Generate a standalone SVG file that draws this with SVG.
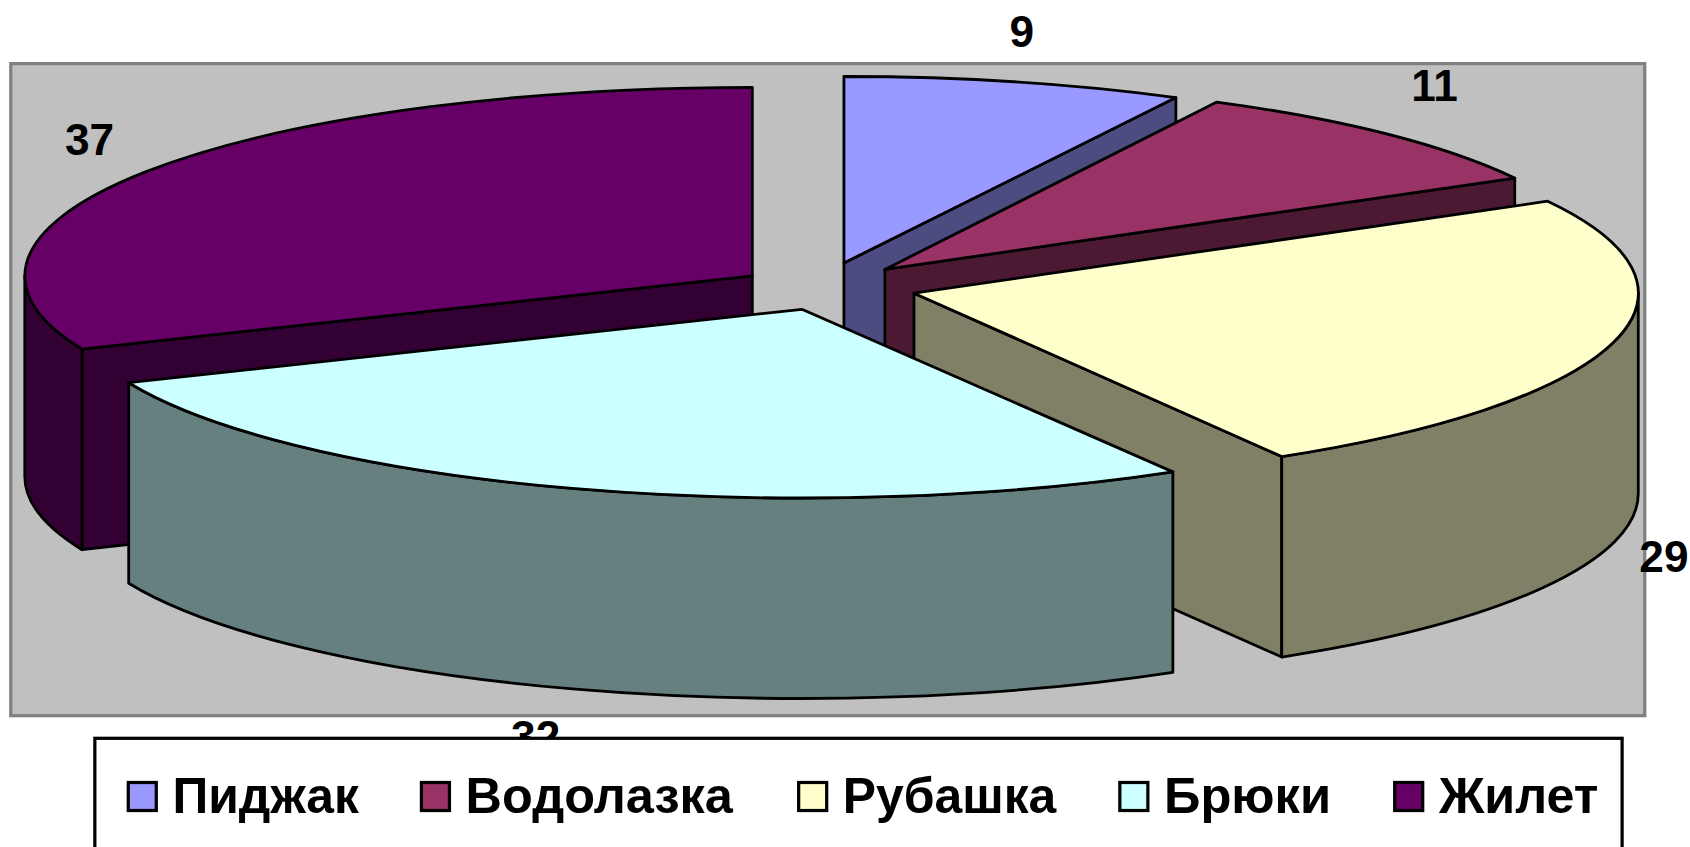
<svg xmlns="http://www.w3.org/2000/svg" width="1690" height="847" viewBox="0 0 1690 847">
<style>
.edge{stroke:#000;stroke-width:2.6;stroke-linejoin:round}
.lbl{font-family:"Liberation Sans",Arial,sans-serif;font-weight:bold;font-size:41px;fill:#000}
.leg{font-family:"Liberation Sans",Arial,sans-serif;font-weight:bold;font-size:47px;fill:#000}
.sw{stroke:#000;stroke-width:3}
</style>
<rect x="0" y="0" width="1690" height="847" fill="#fff"/>
<g transform="scale(1.07781)">
  <rect id="plot-area" x="10" y="59" width="1516" height="605" fill="#C0C0C0" stroke="#808080" stroke-width="3"/>
  <g id="connectors"></g>
  <g id="slice-pidzhak">
    <path class="edge" fill="#4C4C80" d="M783,244 L1091,90.5 L1091,276.5 L783,430 Z"/>
    <path class="edge" fill="#9999FF" d="M783,244 L783,71 A668,173 0 0 1 1091,90.5 Z"/>
  </g>
  <g id="slice-vodolazka">
    <path class="edge" fill="#4C1933" d="M821,250 L1405.4,165.2 L1405.4,351.2 L821,436 Z"/>
    <path class="edge" fill="#993366" d="M821,250 L1129,94.7 A668,175 0 0 1 1405.4,165.2 Z"/>
  </g>
  <g id="slice-zhilet">
    <path class="edge" fill="#330033" d="M698,256 L76.1,324 L76.1,510 L698,442 Z"/>
    <path class="edge" fill="#330033" d="M76.1,324 A675,175 0 0 1 23,256 L23,442 A675,175 0 0 0 76.1,510 Z"/>
    <path class="edge" fill="#660066" d="M698,256 L76.1,324 A675,175 0 0 1 698,81 Z"/>
  </g>
  <g id="slice-rubashka">
    <path class="edge" fill="#808066" d="M848,272 L1189.2,423.6 L1189.2,609.6 L848,458 Z"/>
    <path class="edge" fill="#808066" d="M1520,272 A672,176 0 0 1 1189.2,423.6 L1189.2,609.6 A672,176 0 0 0 1520,458 Z"/>
    <path class="edge" fill="#FFFFCC" d="M848,272 L1435.9,186.7 A672,176 0 0 1 1189.2,423.6 Z"/>
  </g>
  <g id="slice-bryuki">
    <path class="edge" fill="#668080" d="M1088.2,437.8 A678,175 0 0 1 119.4,355.1 L119.4,541.1 A678,175 0 0 0 1088.2,623.8 Z"/>
    <path class="edge" fill="#CCFFFF" d="M744,287 L1088.2,437.8 A678,175 0 0 1 119.4,355.1 Z"/>
  </g>
  <g id="data-labels">
    <text class="lbl" x="948" y="44" text-anchor="middle">9</text>
    <text class="lbl" x="1331" y="94" text-anchor="middle">11</text>
    <text class="lbl" x="83" y="144" text-anchor="middle">37</text>
    <text class="lbl" x="1521" y="531">29</text>
    <text class="lbl" x="497" y="698" text-anchor="middle">32</text>
  </g>
  <g id="legend">
    <rect x="88" y="685" width="1417" height="200" fill="#fff" stroke="#000" stroke-width="3"/>
    <rect class="sw" x="119" y="726" width="26" height="26" fill="#9999FF"/>
    <text class="leg" x="160" y="754" textLength="173" lengthAdjust="spacingAndGlyphs">Пиджак</text>
    <rect class="sw" x="391" y="726" width="26" height="26" fill="#993366"/>
    <text class="leg" x="432" y="754" textLength="248" lengthAdjust="spacingAndGlyphs">Водолазка</text>
    <rect class="sw" x="741" y="726" width="26" height="26" fill="#FFFFCC"/>
    <text class="leg" x="782" y="754" textLength="198" lengthAdjust="spacingAndGlyphs">Рубашка</text>
    <rect class="sw" x="1039" y="726" width="26" height="26" fill="#CCFFFF"/>
    <text class="leg" x="1080" y="754" textLength="155" lengthAdjust="spacingAndGlyphs">Брюки</text>
    <rect class="sw" x="1294" y="726" width="26" height="26" fill="#660066"/>
    <text class="leg" x="1335" y="754" textLength="148" lengthAdjust="spacingAndGlyphs">Жилет</text>
  </g>
</g>
</svg>
